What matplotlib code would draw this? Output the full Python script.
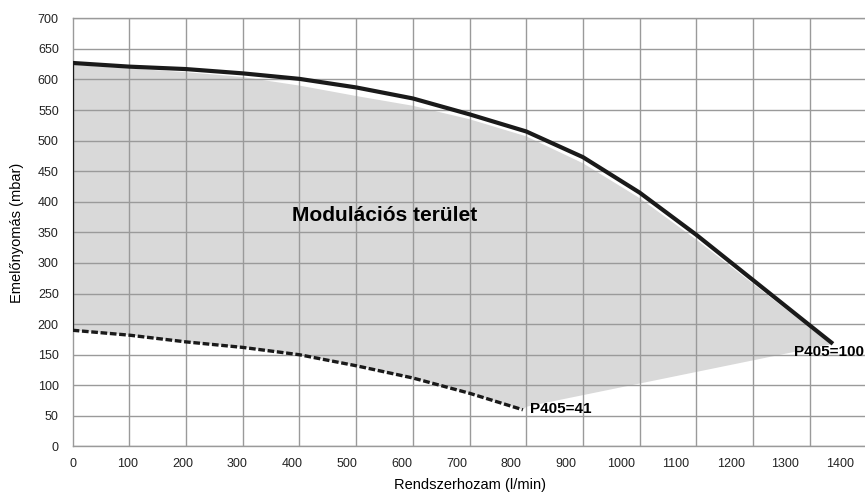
import matplotlib
matplotlib.use("Agg")
import matplotlib.pyplot as plt
import numpy as np

plt.rcParams['font.family'] = ['Liberation Sans Narrow', 'Liberation Sans', 'DejaVu Sans']

# upper curve, P405 = 100
flow_max = [0, 100, 200, 300, 400, 500, 600, 700, 800, 900, 1000, 1100, 1200, 1300, 1338]
pres_max = [627, 621, 617, 610, 601, 587, 569, 543, 515, 473, 415, 346, 272, 198, 170]
# top edge of the shaded area (sits a little under the curve)
fill_top = [624, 618, 612, 604, 590, 573, 557, 535, 507, 463, 406, 338, 266, 194, 167]

# lower curve, P405 = 41
flow_min = [0, 100, 200, 300, 400, 500, 600, 700, 794]
pres_min = [190, 182, 171, 162, 150, 132, 112, 87, 60]

# lower edge of shaded area from the end of the P405=41 curve
edge_flow = [800, 1338]
edge_pres = [65, 167]

xtick_labels = [str(v) for v in range(0, 1500, 100)]
yticks = list(range(0, 750, 50))

fig = plt.figure(figsize=(8.65, 4.95), dpi=100)
ax = fig.add_axes([0.084, 0.098, 0.9177, 0.865])

# shaded modulation area
poly_x = flow_max + edge_flow[::-1] + flow_min[::-1]
poly_y = fill_top + edge_pres[::-1] + pres_min[::-1]
ax.fill(poly_x, poly_y, color='#d9d9d9', lw=0, zorder=1)

ax.plot(flow_max, pres_max, color='#1a1a1a', lw=3.0, solid_joinstyle='round', zorder=4)
ax.plot([0, 0], [pres_min[0], pres_max[0]], color='#1a1a1a', lw=1.6, zorder=4)
ax.plot(flow_min, pres_min, color='#1a1a1a', lw=2.4, linestyle=(0, (2.0, 0.8)), zorder=4)

ax.text(551, 378, 'Modulációs terület', fontsize=15, fontweight='bold',
        ha='center', va='center', zorder=5)
ax.text(1272, 154, 'P405=100', fontsize=11, fontweight='bold', ha='left', va='center', zorder=5)
ax.text(807, 62, 'P405=41', fontsize=11, fontweight='bold', ha='left', va='center', zorder=5)

ax.set_xlim(0, 1400)
ax.set_ylim(0, 700)

# grid every 100 l/min, labels run slightly tighter than the grid
ax.set_xticks(np.arange(15) * 96.7, xtick_labels)
ax.set_xticks(np.arange(0, 1500, 100), minor=True)
ax.set_yticks(yticks)
ax.tick_params(axis='both', which='both', length=0, labelsize=9, colors='#222222')
ax.tick_params(axis='x', pad=8)
ax.tick_params(axis='y', pad=10)
ax.grid(True, axis='x', which='minor', color='#9a9a9a', lw=1.0, zorder=2)
ax.grid(True, axis='y', which='major', color='#9a9a9a', lw=1.0, zorder=2)
ax.set_axisbelow(False)
for s in ['left', 'bottom', 'top']:
    ax.spines[s].set_color('#9a9a9a')
    ax.spines[s].set_linewidth(1.0)
ax.spines['right'].set_visible(False)

ax.set_xlabel('Rendszerhozam (l/min)', fontsize=10.5, labelpad=6)
ax.set_ylabel('Emelőnyomás (mbar)', fontsize=10.5, labelpad=10)

fig.savefig('out.png', dpi=100)
